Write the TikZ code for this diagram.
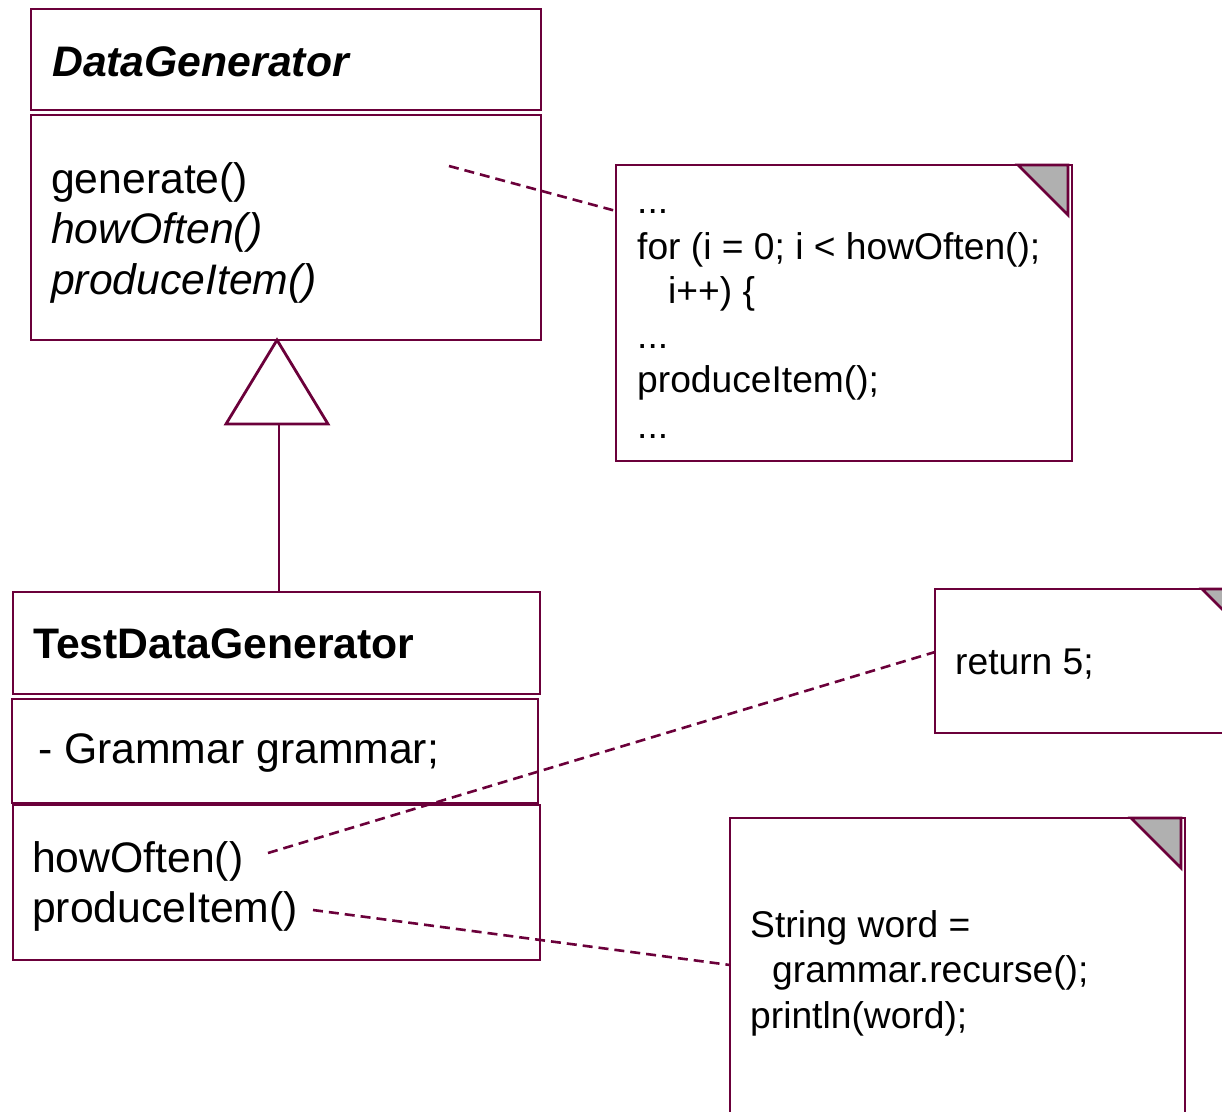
\documentclass[tikz,border=0pt]{standalone}
\usepackage{fontspec}
\setmainfont{Liberation Sans}
\usetikzlibrary{calc}
\definecolor{umlred}{RGB}{107,0,58}
\definecolor{cornergray}{RGB}{176,176,176}
\begin{document}
\begin{tikzpicture}[x=1pt,y=-1pt,
  umlbox/.style={draw=umlred,line width=2.7pt,inner sep=0pt,outer sep=0pt,fill=white},
  clstext/.style={anchor=base west,inner sep=0pt,font=\fontsize{42.7}{50}\selectfont},
  clsital/.style={clstext,font=\fontsize{42.7}{50}\selectfont\itshape},
  notetext/.style={anchor=base west,inner sep=0pt,font=\fontsize{37.2}{45}\selectfont},
  link/.style={draw=umlred,line width=2.6pt,dash pattern=on 10pt off 6pt},
  corner/.style={draw=umlred,line width=2.7pt,fill=cornergray,line join=miter},
  gen/.style={draw=umlred,line width=2.8pt,line join=miter}]
\useasboundingbox (0,0) rectangle (1222,1111);
\clip (0,0) rectangle (1222,1111);

% class DataGenerator
\node[umlbox,minimum width=510pt,minimum height=101pt] (dgname) at (286,59.5) {};
\node[umlbox,minimum width=510pt,minimum height=225pt] (dgmeth) at (286,227.5) {};
% class TestDataGenerator
\node[umlbox,minimum width=527pt,minimum height=102pt] (tdgname) at (276.5,643) {};
\node[umlbox,minimum width=526pt,minimum height=104pt] (tdgattr) at (275,751) {};
\node[umlbox,minimum width=527pt,minimum height=155pt] (tdgmeth) at (276.5,882.5) {};
% notes
\node[umlbox,minimum width=456pt,minimum height=296pt] (note1) at (844,313) {};
\node[umlbox,minimum width=321pt,minimum height=144pt] (note2) at (1095.5,661) {};
\node[umlbox,minimum width=455pt,minimum height=340pt] (note3) at (957.5,988) {};
\foreach \n in {note1,note2,note3}
  \draw[corner] ($(\n.north east)+(-54,0)$) -- ($(\n.north east)+(-4,0)$)
     -- ($(\n.north east)+(-4,50)$) -- cycle;

% generalization
\coordinate (apex) at ($(dgmeth.south west)+(246,0)$);
\coordinate (tribase) at ($(apex)+(2,84)$);
\draw[gen] (tribase) -- (tribase |- tdgname.north);
\draw[gen,fill=white] (apex) -- ++(-51,84) -- ++(102,0) -- cycle;

% texts of DataGenerator
\node[clstext,font=\fontsize{42.7}{50}\selectfont\bfseries\itshape] (dgtitle) at (52,76) {DataGenerator};
\node[clstext] (dgm1) at (51,193) {generate()};
\node[clsital] (dgm2) at (51,243) {howOften()};
\node[clsital] (dgm3) at (51,294) {produceItem()};

% texts of TestDataGenerator
\node[clstext,font=\fontsize{42.7}{50}\selectfont\bfseries] (tdgtitle) at (33,658) {TestDataGenerator};
\node[clstext] (tdga1) at (38,763) {- Grammar grammar;};
\node[clstext] (tdgm1) at (32,872) {howOften()};
\node[clstext] (tdgm2) at (32,922) {produceItem()};

% note texts
\node[notetext] (n1a) at (637,213) {...};
\node[notetext] (n1b) at (637,259) {for (i = 0; i < howOften();};
\node[notetext] (n1c) at (668,303) {i++) \{};
\node[notetext] (n1d) at (637,348) {...};
\node[notetext] (n1e) at (637,392) {produceItem();};
\node[notetext] (n1f) at (637,438) {...};
\node[notetext] (n2a) at (955,674) {return 5;};
\node[notetext] (n3a) at (750,937) {String word =};
\node[notetext] (n3b) at (772,982) {grammar.recurse();};
\node[notetext] (n3c) at (750,1028) {println(word);};

% dashed note links
\coordinate (l1s) at (449,166);
\coordinate (l2s) at (268,853);
\coordinate (l3s) at (313,910);
\draw[link] (l1s) -- ($(note1.north west)+(0,46)$);
\draw[link] (l2s) -- ($(note2.north west)+(0,63)$);
\draw[link] (l3s) -- ($(note3.north west)+(0,147)$);
\end{tikzpicture}
\end{document}
